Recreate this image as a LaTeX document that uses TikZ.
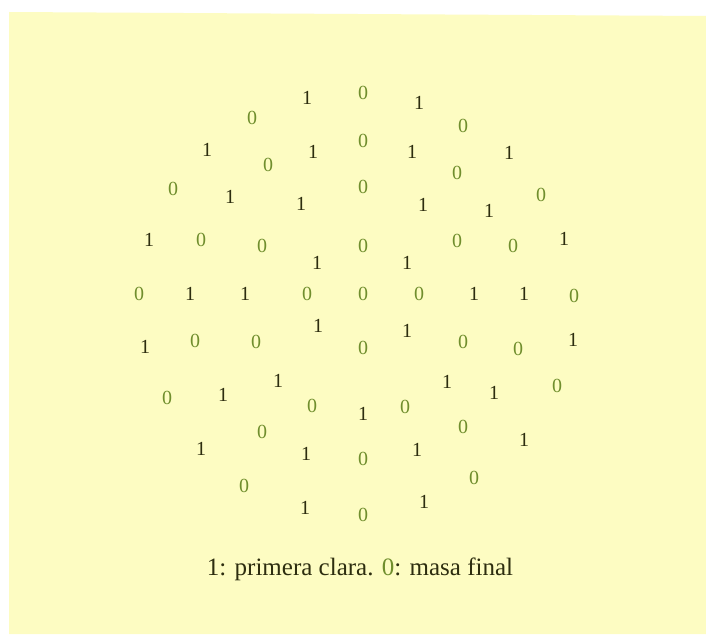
\documentclass[tikz,border=0pt]{standalone}
\usepackage{fontspec}
\setmainfont{Liberation Serif}
\definecolor{bgyellow}{RGB}{253,252,194}
\definecolor{onecol}{RGB}{45,45,15}
\definecolor{zerocol}{RGB}{112,142,45}
\tikzset{
  one/.style={text=onecol,font=\fontsize{20}{20}\selectfont,inner sep=0pt},
  zero/.style={text=zerocol,font=\fontsize{20}{20}\selectfont,inner sep=0pt},
  caption/.style={text=onecol,font=\fontsize{25}{25}\selectfont,inner sep=0pt}
}
\begin{document}
\begin{tikzpicture}[x=1pt,y=-1pt]
\useasboundingbox (0,0) rectangle (706,634);
\fill[white] (0,0) rectangle (706,634);
\fill[bgyellow] (9,12) -- (706,16) -- (706,634) -- (9,634) -- cycle;
\foreach \x/\y [count=\i] in {307/98,419/103,207/150,313/152,412/152,509/153,230/197,301/204,423/205,489/211,149/240,317/263,407/263,564/239,190/294,245/294,474/294,524/294,145/347,318/326,407/331,573/340,223/395,278/381,363/414,447/382,494/393,201/449,306/454,417/450,524/440,305/508,424/502}
  \node[one] (one\i) at (\x,\y) {1};
\foreach \x/\y [count=\i] in {363/93,252/118,463/126,268/165,363/141,457/173,173/189,363/187,541/195,201/240,262/246,363/246,457/241,513/246,139/294,307/294,363/294,419/294,574/296,195/341,256/342,363/348,463/342,518/349,167/398,312/406,405/407,557/386,262/432,463/427,363/459,244/486,474/478,363/515}
  \node[zero] (zero\i) at (\x,\y) {0};
\node[caption,anchor=base] (cap) at (360,575) {1: primera clara. \textcolor{zerocol}{0}: masa final};
\end{tikzpicture}
\end{document}
